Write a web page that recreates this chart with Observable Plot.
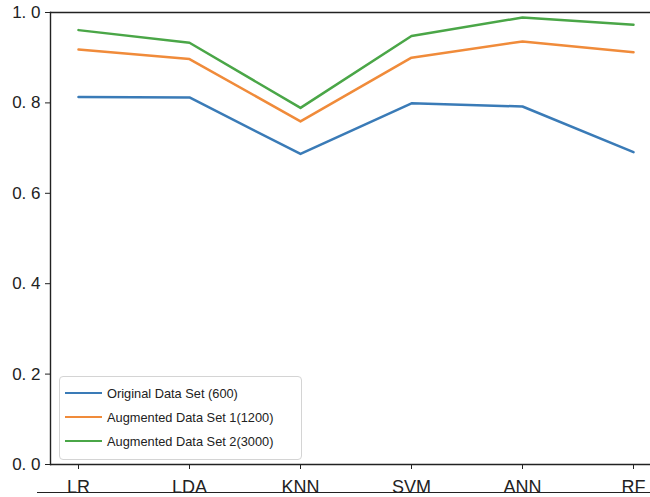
<!DOCTYPE html>
<html>
<head>
<meta charset="utf-8">
<script src="https://cdn.jsdelivr.net/npm/d3@7"></script>
<script src="https://cdn.jsdelivr.net/npm/@observablehq/plot@0.6"></script>
<style>
  html, body { margin: 0; padding: 0; background: #fff; }
  #wrap { position: relative; width: 650px; height: 497px; overflow: hidden; font-family: "Liberation Sans", Arial, sans-serif; }
  #legend { position: absolute; left: 59px; top: 376px; width: 243px; height: 84px; border: 1px solid #d4d4d4; border-radius: 4px; background: rgba(255,255,255,0.85); box-sizing: border-box; }
  .item { position: absolute; left: 5px; height: 16px; display: flex; align-items: center; font-size: 12.8px; color: #222; }
  .sw { width: 37px; height: 0; border-top: 2.5px solid; margin-right: 5px; }
  #under { position: absolute; left: 37px; top: 492px; width: 620px; height: 0; border-top: 1.6px solid #222; }
</style>
</head>
<body>
<div id="wrap"></div>
<script>
const models = ["LR", "LDA", "KNN", "SVM", "ANN", "RF"];
const seriesNames = ["Original Data Set (600)", "Augmented Data Set 1(1200)", "Augmented Data Set 2(3000)"];
const original = [0.813, 0.812, 0.687, 0.799, 0.792, 0.691];
const augmented1 = [0.918, 0.897, 0.759, 0.900, 0.936, 0.912];
const augmented2 = [0.961, 0.933, 0.789, 0.948, 0.989, 0.973];
const yTicks = [0.0, 0.2, 0.4, 0.6, 0.8, 1.0];
const colors = ["#3a7bb7", "#f08b3a", "#4aa647"];

const allSeries = [original, augmented1, augmented2];
const data = allSeries.flatMap((vals, i) => vals.map((v, j) => ({model: models[j], value: v, series: seriesNames[i]})));

const plot = Plot.plot({
  width: 650,
  height: 497,
  marginLeft: 50,
  marginRight: 0,
  marginTop: 12,
  marginBottom: 33,
  style: {fontFamily: "'Liberation Sans', Arial, sans-serif", color: "#222", background: "transparent"},
  x: {type: "point", domain: models, range: [77.3, 634], padding: 0, label: null},
  y: {domain: [0, 1], label: null},
  color: {domain: seriesNames, range: colors},
  marks: [
    Plot.ruleY([0, 1], {stroke: "#222", strokeWidth: 1.4}),
    Plot.frame({anchor: "left", stroke: "#222", strokeWidth: 1.4}),
    Plot.axisY({ticks: yTicks, tickSize: 5, tickPadding: 5, fontSize: 17, tickFormat: d => d.toFixed(1).replace(".", ". "), label: null}),
    Plot.axisX({tickSize: 5, tickPadding: 11, fontSize: 18, label: null}),
    Plot.line(data, {x: "model", y: "value", stroke: "series", strokeWidth: 2.5, curve: "linear"})
  ]
});
const wrap = document.getElementById("wrap");
wrap.appendChild(plot);

const legend = document.createElement("div");
legend.id = "legend";
seriesNames.forEach((name, i) => {
  const it = document.createElement("div");
  it.className = "item";
  it.style.top = (8 + i * 24) + "px";
  const sw = document.createElement("span");
  sw.className = "sw";
  sw.style.borderColor = colors[i];
  const t = document.createElement("span");
  t.textContent = name;
  it.appendChild(sw); it.appendChild(t);
  legend.appendChild(it);
});
wrap.appendChild(legend);
const under = document.createElement("div");
under.id = "under";
wrap.appendChild(under);
</script>
</body>
</html>
